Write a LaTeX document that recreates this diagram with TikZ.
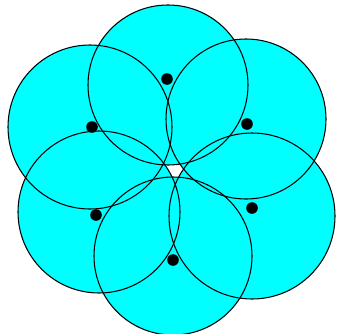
\documentclass[tikz,border=0pt]{standalone}
\definecolor{discfill}{RGB}{0,255,255}
\begin{document}
\begin{tikzpicture}[x=0.03cm,y=-0.03cm]
  \useasboundingbox (0,0) rectangle (339,333);
  % discs first, then all rims on top
  \foreach \cx/\cy/\r in {168/85/80,246/119/80,90/127/82,99/212/81,252/216/83,173/256/79}
    \fill[discfill] (\cx,\cy) circle (\r);
  \foreach \cx/\cy/\r in {168/85/80,246/119/80,90/127/82,99/212/81,252/216/83,173/256/79}
    \draw[black,line width=0.9pt] (\cx,\cy) circle (\r);
  % sensor dots
  \foreach \dx/\dy in {167/79,247/124,92/127,96/215,252/208,173/260}
    \fill[black] (\dx,\dy) circle (5.8);
\end{tikzpicture}
\end{document}
